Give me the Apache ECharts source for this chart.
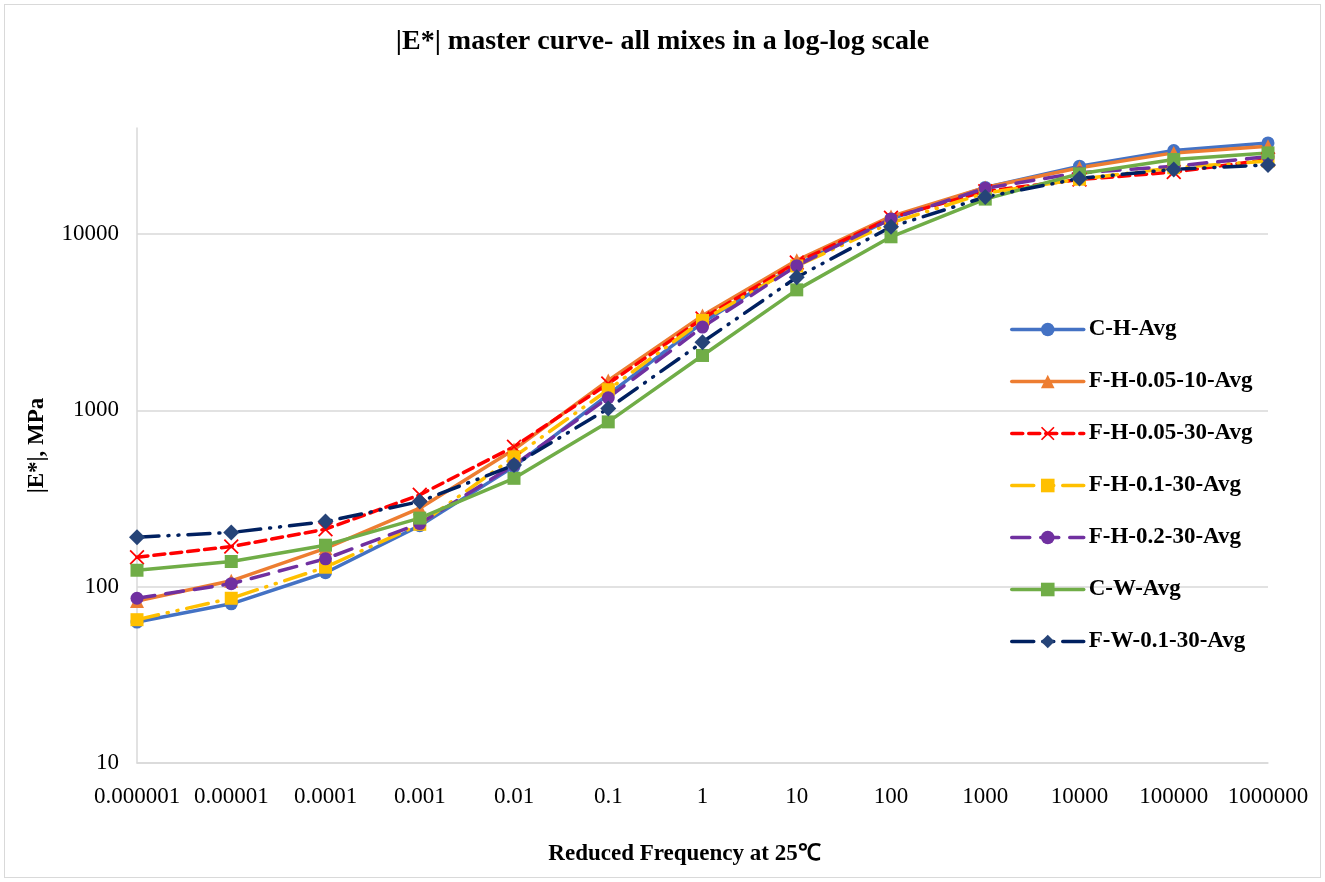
<!DOCTYPE html>
<html>
<head>
<meta charset="utf-8">
<script src="https://cdn.jsdelivr.net/npm/echarts@6/dist/echarts.min.js"></script>
<style>
    html, body { margin: 0; padding: 0; background: #fff; }
    #chart { position: absolute; left: 4px; top: 4px; width: 1317px; height: 874px; border: 1px solid #d9d9d9; box-sizing: border-box; }
</style>
</head>
<body>
<div id="chart"></div>
<script>
// reduced frequency categories
const freqLabels = ['0.000001', '0.00001', '0.0001', '0.001', '0.01', '0.1', '1', '10', '100', '1000', '10000', '100000', '1000000']

// |E*| values (MPa)
const cH = [63, 80, 120, 222, 480, 1230, 3150, 6700, 12200, 18400, 24300, 29800, 32900]
const fH00510 = [83, 108, 165, 279, 600, 1480, 3450, 7100, 12600, 18400, 23800, 28900, 31500]
const fH00530 = [147, 169, 212, 332, 622, 1420, 3320, 6900, 12400, 17500, 20400, 22500, 26500]
const fH0130 = [65, 86, 129, 226, 545, 1310, 3240, 6600, 11600, 17100, 20500, 23800, 26000]
const fH0230 = [86, 104, 144, 228, 490, 1180, 2970, 6620, 12200, 18200, 22300, 24300, 27500]
const cW = [124, 139, 172, 245, 412, 861, 2050, 4830, 9660, 15800, 22000, 26500, 28900]
const fW0130 = [191, 203, 234, 304, 490, 1025, 2440, 5690, 11000, 16250, 20700, 23300, 24700]

const serif = 'Liberation Serif'
const crossPath = 'path://M1,0 L6,5 L11,0 L12,1 L7,6 L12,11 L11,12 L6,7 L1,12 L0,11 L5,6 L0,1 Z'

const mkLine = (name, data, color, symbol, size, type, markColor) => ({
    name,
    type: 'line',
    data,
    symbol,
    symbolSize: size,
    showAllSymbol: true,
    color: markColor || color,
    itemStyle: { color: markColor || color },
    lineStyle: { color, width: 3.5, type, cap: 'round' },
    emphasis: { disabled: true }
})

const chart = echarts.init(document.getElementById('chart'))
chart.setOption({
    animation: false,
    title: {
        text: '|E*| master curve- all mixes in a log-log scale',
        left: 'center',
        top: 18,
        textStyle: { fontFamily: serif, fontSize: 28, fontWeight: 'bold', color: '#000' }
    },
    legend: {
        orient: 'vertical',
        left: 1000,
        top: 308,
        itemWidth: 72,
        itemHeight: 17,
        itemGap: 29,
        lineStyle: { width: 3.5 },
        textStyle: { fontFamily: serif, fontSize: 23, fontWeight: 'bold', color: '#000' }
    },
    grid: { left: 132, right: 52, top: 123, bottom: 114, containLabel: false },
    xAxis: {
        type: 'category',
        data: freqLabels,
        boundaryGap: false,
        name: 'Reduced Frequency at 25℃',
        nameLocation: 'middle',
        nameGap: 80,
        nameTextStyle: { fontFamily: serif, fontSize: 23, fontWeight: 'bold', color: '#000', padding: [0, 36, 0, 0] },
        axisLine: { lineStyle: { color: '#d9d9d9', width: 1.5 } },
        axisTick: { show: false },
        axisLabel: { interval: 0, margin: 22, fontFamily: serif, fontSize: 23, color: '#000' }
    },
    yAxis: {
        type: 'log',
        logBase: 10,
        min: 10,
        max: 40000,
        name: '|E*|, MPa',
        nameLocation: 'middle',
        nameGap: 88,
        nameRotate: 90,
        nameTextStyle: { fontFamily: serif, fontSize: 23, fontWeight: 'bold', color: '#000' },
        axisLine: { show: true, lineStyle: { color: '#d9d9d9', width: 1.5 } },
        axisTick: { show: false },
        axisLabel: {
            margin: 18,
            showMaxLabel: false,
            fontFamily: serif,
            fontSize: 23,
            color: '#000',
            formatter: v => String(Math.round(v))
        },
        splitLine: { show: true, showMaxLine: false, lineStyle: { color: '#d9d9d9', width: 1.5 } }
    },
    series: [
        mkLine('C-H-Avg', cH, '#4472C4', 'circle', 13, 'solid'),
        mkLine('F-H-0.05-10-Avg', fH00510, '#ED7D31', 'triangle', 14, 'solid'),
        mkLine('F-H-0.05-30-Avg', fH00530, '#FF0000', crossPath, 15, [11, 6]),
        mkLine('F-H-0.1-30-Avg', fH0130, '#FFC000', 'rect', 13, [22, 9, 1, 9, 1, 9]),
        mkLine('F-H-0.2-30-Avg', fH0230, '#7030A0', 'circle', 13, [18, 11]),
        mkLine('C-W-Avg', cW, '#70AD47', 'rect', 13, 'solid'),
        mkLine('F-W-0.1-30-Avg', fW0130, '#002060', 'diamond', 16, [22, 9, 1, 9, 1, 9], '#264478')
    ]
})
</script>
</body>
</html>
